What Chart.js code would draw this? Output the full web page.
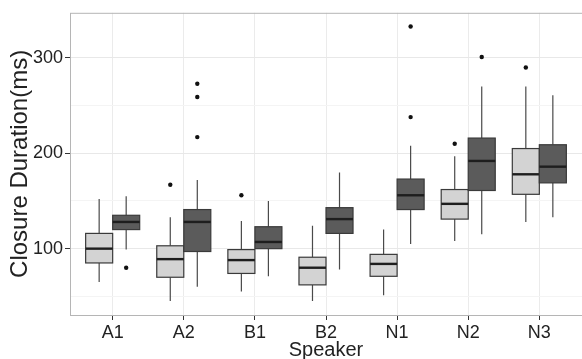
<!DOCTYPE html>
<html>
<head>
<meta charset="utf-8">
<script src="https://cdn.jsdelivr.net/npm/chart.js@4.4.0/dist/chart.umd.min.js"></script>
<style>
  html, body { margin: 0; padding: 0; background: #fff; overflow: hidden; }
  #wrap { width: 586px; height: 359px; }
</style>
</head>
<body>
<div id="wrap"><canvas id="closureChart"></canvas></div>
<script>
const speakers = ['A1', 'A2', 'B1', 'B2', 'N1', 'N2', 'N3'];

// light boxes (left of each speaker)
const lightLower  = [65, 45, 55, 45, 51, 108, 128];
const lightQ1     = [85, 70, 74, 62, 71, 131, 157];
const lightMedian = [100, 89, 88, 80, 84, 147, 178];
const lightQ3     = [116, 103, 99, 91, 94, 162, 205];
const lightUpper  = [152, 133, 129, 124, 120, 197, 270];
const lightOutliers = [[], [167], [156], [], [], [210], [290]];

// dark boxes (right of each speaker)
const darkLower  = [99, 60, 71, 78, 105, 115, 133];
const darkQ1     = [120, 97, 100, 116, 141, 161, 169];
const darkMedian = [128, 128, 107, 131, 156, 192, 186];
const darkQ3     = [135, 141, 123, 143, 173, 216, 209];
const darkUpper  = [155, 172, 150, 180, 208, 270, 261];
const darkOutliers = [[80], [273, 259, 217], [], [], [333, 238], [301], []];

const yTicks = [50, 100, 150, 200, 250, 300];

const BOX_W = 0.38;

const groups = [
    { lower: lightLower, q1: lightQ1, med: lightMedian, q3: lightQ3, upper: lightUpper, out: lightOutliers, fill: '#d3d3d3', shift: -BOX_W / 2 },
    { lower: darkLower, q1: darkQ1, med: darkMedian, q3: darkQ3, upper: darkUpper, out: darkOutliers, fill: '#5b5b5b', shift: BOX_W / 2 }
];

// boxes + whiskers, drawn under the outlier points
const boxPlugin = {
    id: 'boxes',
    beforeDatasetsDraw(chart) {
        const { ctx, scales: { x, y } } = chart;
        ctx.save();
        groups.forEach(g => {
            speakers.forEach((_, i) => {
                const c = i + g.shift;
                const xl = x.getPixelForValue(c - BOX_W / 2);
                const xr = x.getPixelForValue(c + BOX_W / 2);
                const xc = x.getPixelForValue(c);
                const yLo = y.getPixelForValue(g.lower[i]);
                const yQ1 = y.getPixelForValue(g.q1[i]);
                const yMed = y.getPixelForValue(g.med[i]);
                const yQ3 = y.getPixelForValue(g.q3[i]);
                const yUp = y.getPixelForValue(g.upper[i]);

                ctx.strokeStyle = '#4a4a4a';
                ctx.lineWidth = 1.2;
                ctx.beginPath();
                ctx.moveTo(xc, yUp); ctx.lineTo(xc, yQ3);
                ctx.moveTo(xc, yQ1); ctx.lineTo(xc, yLo);
                ctx.stroke();

                ctx.fillStyle = g.fill;
                ctx.fillRect(xl, yQ3, xr - xl, yQ1 - yQ3);
                ctx.strokeStyle = '#3a3a3a';
                ctx.lineWidth = 1.2;
                ctx.strokeRect(xl, yQ3, xr - xl, yQ1 - yQ3);

                ctx.strokeStyle = '#1e1e1e';
                ctx.lineWidth = 2.4;
                ctx.beginPath();
                ctx.moveTo(xl, yMed); ctx.lineTo(xr, yMed);
                ctx.stroke();
            });
        });
        ctx.restore();
    }
};

// panel border like ggplot theme_bw
const borderPlugin = {
    id: 'panelBorder',
    afterDatasetsDraw(chart) {
        const { ctx, chartArea: a } = chart;
        ctx.save();
        ctx.strokeStyle = '#b5b5b5';
        ctx.lineWidth = 1;
        ctx.strokeRect(a.left + 0.5, a.top + 0.5, a.right - a.left, a.bottom - a.top);
        ctx.restore();
    }
};

const outlierSets = groups.map(g => ({
    data: g.out.flatMap((vals, i) => vals.map(v => ({ x: i + g.shift, y: v }))),
    pointRadius: 2.2,
    pointBackgroundColor: '#111',
    pointBorderWidth: 0
}));

new Chart(document.getElementById('closureChart').getContext('2d'), {
    type: 'scatter',
    data: { datasets: outlierSets },
    plugins: [boxPlugin, borderPlugin],
    options: {
        responsive: true,
        maintainAspectRatio: false,
        animation: false,
        layout: { padding: { top: 11, left: 0, right: 0, bottom: 0 } },
        plugins: { legend: { display: false }, tooltip: { enabled: false } },
        scales: {
            x: {
                type: 'linear',
                min: -0.6,
                max: 6.6,
                afterBuildTicks: s => { s.ticks = speakers.map((_, i) => ({ value: i })); },
                afterFit: s => { s.height = 44; },
                border: { display: false },
                grid: { color: '#ebebeb', lineWidth: 1, tickColor: '#333', tickLength: 5 },
                ticks: {
                    autoSkip: false, maxRotation: 0, padding: 2,
                    color: '#222',
                    font: { family: 'Liberation Sans, Arial', size: 18 },
                    callback: v => speakers[v]
                },
                title: {
                    display: true, text: 'Speaker', color: '#222',
                    font: { family: 'Liberation Sans, Arial', size: 20 },
                    padding: { top: 0, bottom: -3 }
                }
            },
            y: {
                min: 30.4,
                max: 347.4,
                afterBuildTicks: s => { s.ticks = yTicks.map(v => ({ value: v })); },
                afterFit: s => { s.width = 70; },
                border: { display: false },
                grid: {
                    color: c => (c.tick && c.tick.value % 100 === 0) ? '#e8e8e8' : '#f4f4f4',
                    tickColor: c => (c.tick && c.tick.value % 100 === 0) ? '#333' : 'rgba(0,0,0,0)',
                    tickLength: 5
                },
                ticks: {
                    padding: 2, color: '#222',
                    font: { family: 'Liberation Sans, Arial', size: 18 },
                    callback: v => (v % 100 === 0 ? v : '')
                },
                title: {
                    display: true, text: 'Closure Duration(ms)', color: '#222',
                    font: { family: 'Liberation Sans, Arial', size: 24 },
                    padding: { top: 6, bottom: 0 }
                }
            }
        }
    }
});
</script>
</body>
</html>
